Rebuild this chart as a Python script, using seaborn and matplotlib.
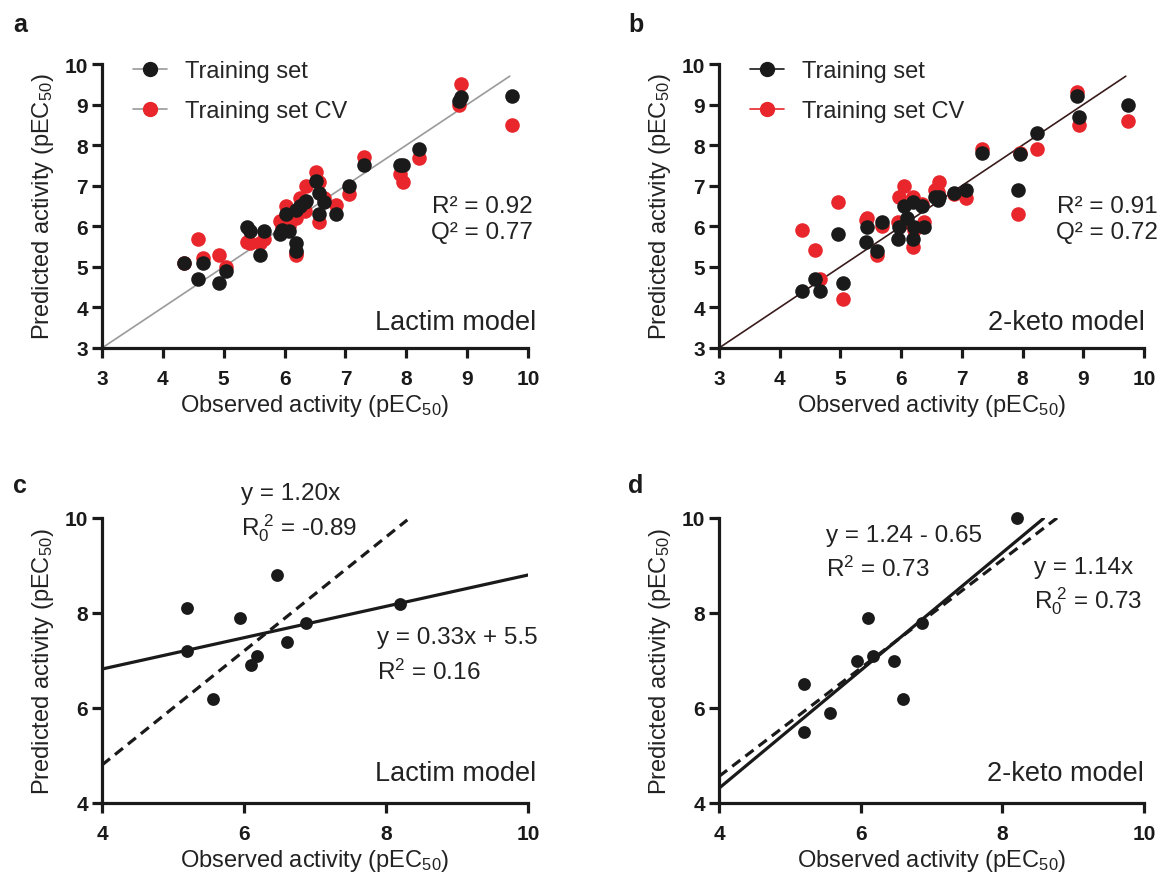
import matplotlib
matplotlib.use("Agg")
import matplotlib.pyplot as plt
from matplotlib.lines import Line2D
import numpy as np
import pandas as pd
import seaborn as sns

# ---------------- data ----------------
# Panel a (Lactim model, training set)
obs_a = [4.35, 4.58, 4.66, 4.93, 5.04, 5.39, 5.43, 5.60, 5.66, 5.93, 5.96, 6.03, 6.08,
         6.18, 6.18, 6.19, 6.25, 6.34, 6.36, 6.52, 6.56, 6.56, 6.65, 6.85, 7.06, 7.30,
         7.90, 7.95, 8.21, 8.87, 8.90, 9.73]
train_a = [5.10, 4.70, 5.10, 4.60, 4.91, 5.99, 5.89, 5.30, 5.89, 5.80, 5.92, 6.30, 5.89,
           5.60, 5.40, 6.39, 6.51, 6.60, 6.62, 7.11, 6.81, 6.30, 6.61, 6.30, 7.00, 7.50,
           7.50, 7.50, 7.91, 9.09, 9.19, 9.20]
cv_a = [5.10, 5.69, 5.21, 5.30, 5.00, 5.61, 5.60, 5.60, 5.69, 6.12, 5.95, 6.51, 6.00,
        5.35, 5.30, 6.20, 6.70, 6.38, 7.00, 7.33, 7.10, 6.10, 6.70, 6.53, 6.80, 7.72,
        7.29, 7.10, 7.68, 9.00, 9.51, 8.50]

# Panel b (2-keto model, training set)
obs_b = [4.36, 4.58, 4.67, 4.96, 5.05, 5.42, 5.44, 5.61, 5.68, 5.94, 5.97, 6.04, 6.09,
         6.20, 6.20, 6.21, 6.35, 6.38, 6.56, 6.60, 6.62, 6.87, 7.07, 7.33, 7.92, 7.96,
         8.23, 8.89, 8.93, 9.74]
train_b = [4.40, 4.70, 4.40, 5.80, 4.59, 5.61, 5.99, 5.39, 6.10, 5.69, 5.99, 6.51, 6.20,
           6.61, 5.69, 5.99, 6.51, 5.99, 6.72, 6.65, 6.72, 6.81, 6.90, 7.80, 6.90, 7.78,
           8.30, 9.20, 8.70, 9.00]
cv_b = [5.90, 5.41, 4.70, 6.59, 4.21, 6.15, 6.20, 5.28, 6.00, 6.10, 6.72, 7.00, 6.10,
        6.72, 5.49, 5.90, 6.55, 6.10, 6.90, 6.85, 7.10, 6.80, 6.70, 7.90, 6.30, 7.80,
        7.90, 9.30, 8.50, 8.60]

# Panels c, d (test set)
obs_test = [5.20, 5.20, 5.57, 5.95, 6.10, 6.18, 6.47, 6.60, 6.87, 8.20]
pred_c = [8.10, 7.20, 6.20, 7.90, 6.90, 7.10, 8.80, 7.40, 7.80, 8.20]
pred_d = [6.50, 5.50, 5.90, 7.00, 7.90, 7.10, 7.00, 6.20, 7.80, 10.00]

# Fit lines: (slope, intercept, x start, x end)
fit_c_solid = (0.33, 5.5, 4.0, 10.0)
fit_c_dash = (1.20, 0.0, 4.0, 8.3)
fit_d_solid = (1.24, -0.65, 4.0, 8.58)
fit_d_dash = (1.14, 0.0, 4.0, 8.8)
identity_range = [3.0, 9.7]

ticks_ab = [3, 4, 5, 6, 7, 8, 9, 10]
ticks_cd = [4, 6, 8, 10]

# ---------------- style ----------------
sns.set_style("ticks")
plt.rcParams["font.family"] = ["Liberation Sans", "DejaVu Sans"]
plt.rcParams["mathtext.fontset"] = "custom"
plt.rcParams["mathtext.rm"] = "Liberation Sans"
plt.rcParams["mathtext.it"] = "Liberation Sans:italic"
plt.rcParams["mathtext.bf"] = "Liberation Sans:bold"

BLACK = "#1a1a1a"
RED = "#e8262b"
TXT = "#222222"
SPINE_LW = 2.3
LABEL_FS = 17
TICK_FS = 15
ANNOT_FS = 17.5
MODEL_FS = 19.5

W, H = 1160, 879
fig = plt.figure(figsize=(W / 100, H / 100), dpi=100)


def add_axes_px(left, top, right, bottom):
    return fig.add_axes([left / W, 1 - bottom / H, (right - left) / W, (bottom - top) / H])


def set_labels(ax):
    ax.set_xlabel(r"Observed activity (pEC$_{50}$)", fontsize=LABEL_FS, color=TXT, labelpad=3)
    ax.set_ylabel(r"Predicted activity (pEC$_{50}$)", fontsize=LABEL_FS, color=TXT)
    ax.yaxis.set_label_coords(-0.108, 0.5)


def style_axes(ax, lim, ticks):
    ax.set_xlim(*lim)
    ax.set_ylim(*lim)
    ax.set_xticks(ticks)
    ax.set_yticks(ticks)
    for s in ["top", "right"]:
        ax.spines[s].set_visible(False)
    for s in ["left", "bottom"]:
        ax.spines[s].set_linewidth(SPINE_LW)
        ax.spines[s].set_color(BLACK)
    ax.tick_params(axis="both", direction="out", length=7, width=SPINE_LW,
                   colors=BLACK, labelsize=TICK_FS)
    ax.tick_params(axis="x", pad=8)
    ax.tick_params(axis="y", pad=3)
    for lab in ax.get_xticklabels() + ax.get_yticklabels():
        lab.set_fontweight("bold")
    ax.set_facecolor("none")


def training_panel(ax, obs, train, cv, line_color, legend_line_colors, r2, q2, model,
                   r2x, modelx):
    style_axes(ax, (3, 10), ticks_ab)
    sns.lineplot(x=identity_range, y=identity_range, ax=ax, color=line_color, lw=1.2,
                 zorder=1)
    df = pd.DataFrame({"obs": obs, "train": train, "cv": cv})
    sns.scatterplot(data=df, x="obs", y="cv", ax=ax, color=RED, s=110, linewidth=0,
                    zorder=2, clip_on=False)
    sns.scatterplot(data=df, x="obs", y="train", ax=ax, color=BLACK, s=110, linewidth=0,
                    zorder=3, clip_on=False)
    set_labels(ax)
    handles = [
        Line2D([0], [0], color=legend_line_colors[0], lw=1.2, marker="o", ms=10,
               mfc=BLACK, mec=BLACK),
        Line2D([0], [0], color=legend_line_colors[1], lw=1.2, marker="o", ms=10,
               mfc=RED, mec=RED),
    ]
    ax.legend(handles, ["Training set", "Training set CV"], loc="upper left",
              bbox_to_anchor=(0.072, 1.013), frameon=False, fontsize=LABEL_FS,
              handlelength=1.45, handletextpad=0.75, labelspacing=0.75,
              borderpad=0, borderaxespad=0)
    ax.text(r2x, 6.36, f"R² = {r2}", ha="right", va="baseline", fontsize=ANNOT_FS,
            color=TXT)
    ax.text(r2x, 5.70, f"Q² = {q2}", ha="right", va="baseline", fontsize=ANNOT_FS,
            color=TXT)
    ax.text(modelx, 3.46, model, ha="right", va="baseline", fontsize=MODEL_FS, color=TXT)


def fit_line(ax, fit, dashed):
    slope, icpt, x0, x1 = fit
    xs = np.array([x0, x1])
    ys = slope * xs + icpt
    sns.lineplot(x=xs, y=ys, ax=ax, color=BLACK, lw=2.3, zorder=2,
                 linestyle=(0, (3.2, 2.0)) if dashed else "-")


def test_panel(ax, pred, solid, dash, texts, model, modelx):
    style_axes(ax, (4, 10), ticks_cd)
    fit_line(ax, solid, False)
    fit_line(ax, dash, True)
    sns.scatterplot(x=obs_test, y=pred, ax=ax, color=BLACK, s=85, linewidth=0, zorder=3,
                    clip_on=False)
    set_labels(ax)
    for (x, y, s) in texts:
        ax.text(x, y, s, ha="left", va="baseline", fontsize=ANNOT_FS, color=TXT,
                clip_on=False)
    ax.text(modelx, 4.48, model, ha="right", va="baseline", fontsize=MODEL_FS, color=TXT)


ax_a = add_axes_px(102, 65, 528, 349)
ax_b = add_axes_px(719, 65, 1144, 349)
ax_c = add_axes_px(102, 519, 528, 804)
ax_d = add_axes_px(719, 519, 1144, 804)

training_panel(ax_a, obs_a, train_a, cv_a, "#9a9a9a", ["#9a9a9a", "#9a9a9a"],
               "0.92", "0.77", "Lactim model", 10.08, 10.14)
training_panel(ax_b, obs_b, train_b, cv_b, "#3a1c1c", [BLACK, RED],
               "0.91", "0.72", "2-keto model", 10.23, 10.02)

test_panel(ax_c, pred_c, fit_c_solid, fit_c_dash,
           [(5.96, 10.39, "y = 1.20x"),
            (5.96, 9.66, r"$\mathrm{R}_0^{\ 2}$ = -0.89"),
            (7.87, 7.36, "y = 0.33x + 5.5"),
            (7.87, 6.61, r"$\mathrm{R}^2$ = 0.16")],
           "Lactim model", 10.12)
test_panel(ax_d, pred_d, fit_d_solid, fit_d_dash,
           [(5.51, 9.52, "y = 1.24 - 0.65"),
            (5.51, 8.78, r"$\mathrm{R}^2$ = 0.73"),
            (8.45, 8.85, "y = 1.14x"),
            (8.45, 8.11, r"$\mathrm{R}_0^{\ 2}$ = 0.73")],
           "2-keto model", 10.0)

for letter, x, y in [("a", 13, 32), ("b", 628, 32), ("c", 13, 493), ("d", 628, 493)]:
    fig.text(x / W, 1 - y / H, letter, fontsize=18, fontweight="bold", color=BLACK,
             va="baseline", ha="left")

fig.savefig("out.png", dpi=100)
